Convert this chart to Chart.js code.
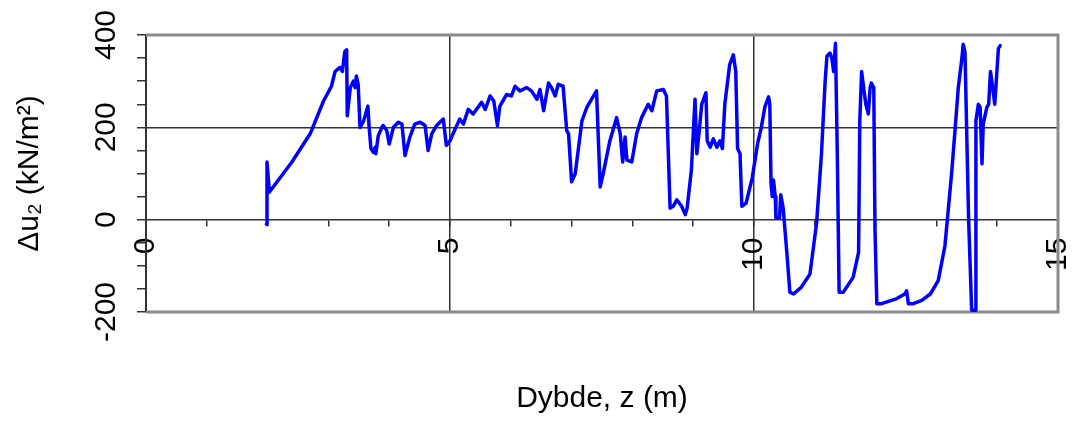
<!DOCTYPE html>
<html>
<head>
<meta charset="utf-8">
<script src="https://cdn.jsdelivr.net/npm/chart.js@4/dist/chart.umd.min.js"></script>
<style>
  html, body { margin: 0; padding: 0; background: #fff; }
  #wrap { width: 1073px; height: 421px; }
</style>
</head>
<body>
<div id="wrap"><canvas id="myChart"></canvas></div>
<script>
// Depth (m) and pore pressure change du2 (kN/m2), read along the sounding
const depth = [
    1.98, 1.99, 2.03, 2.40, 2.70, 2.92, 3.05, 3.11, 3.19, 3.23, 3.27, 3.30, 3.31, 3.36, 3.41,
    3.44, 3.46, 3.49, 3.52, 3.58, 3.65, 3.67, 3.70, 3.74, 3.77, 3.78, 3.82, 3.88, 3.90, 3.96,
    4.00, 4.07, 4.15, 4.21, 4.26, 4.34, 4.42, 4.51, 4.59, 4.64, 4.70, 4.78, 4.89, 4.94, 5.00,
    5.05, 5.16, 5.22, 5.30, 5.38, 5.52, 5.58, 5.66, 5.72, 5.78, 5.82, 5.93, 6.01, 6.07, 6.15,
    6.26, 6.34, 6.43, 6.48, 6.54, 6.62, 6.67, 6.73, 6.78, 6.86, 6.92, 6.95, 7.00, 7.06, 7.17,
    7.25, 7.41, 7.47, 7.52, 7.63, 7.74, 7.80, 7.84, 7.88, 7.91, 7.99, 8.07, 8.15, 8.26, 8.32,
    8.40, 8.51, 8.56, 8.62, 8.67, 8.73, 8.81, 8.87, 8.90, 8.97, 9.03, 9.06, 9.10, 9.14, 9.21,
    9.23, 9.28, 9.33, 9.39, 9.44, 9.48, 9.52, 9.60, 9.66, 9.70, 9.73, 9.77, 9.80, 9.87, 9.97,
    10.06, 10.12, 10.18, 10.24, 10.26, 10.28, 10.30, 10.32, 10.35, 10.36, 10.42, 10.44, 10.48, 10.54, 10.59,
    10.65, 10.78, 10.92, 11.03, 11.11, 11.17, 11.20, 11.25, 11.28, 11.31, 11.34, 11.37, 11.40, 11.47, 11.63,
    11.72, 11.74, 11.77, 11.81, 11.84, 11.88, 11.91, 11.93, 11.97, 11.99, 12.02, 12.10, 12.21, 12.35, 12.48,
    12.51, 12.54, 12.62, 12.76, 12.90, 13.03, 13.14, 13.25, 13.31, 13.36, 13.42, 13.44, 13.47, 13.53, 13.58,
    13.64, 13.65, 13.69, 13.72, 13.75, 13.77, 13.83, 13.86, 13.89, 13.94, 13.96, 14.02, 14.05
];
const du2 = [
    -10, 125, 60, 125, 186, 257, 289, 321, 330, 321, 364, 368, 225, 286, 300,
    286, 311, 293, 200, 214, 246, 200, 154, 146, 157, 143, 182, 200, 204, 193,
    164, 200, 211, 207, 139, 179, 207, 211, 204, 150, 186, 204, 218, 161, 171,
    186, 218, 207, 239, 229, 254, 239, 268, 257, 204, 246, 271, 268, 289, 279,
    286, 279, 261, 282, 236, 296, 286, 268, 293, 289, 193, 186, 82, 100, 214,
    243, 279, 71, 100, 171, 221, 186, 125, 179, 129, 125, 186, 221, 250, 236,
    279, 282, 268, 25, 29, 43, 29, 11, 25, 107, 261, 143, 193, 250, 275,
    171, 157, 175, 157, 171, 154, 250, 336, 357, 321, 154, 143, 29, 36, 90,
    165, 200, 245, 266, 250, 79, 50, 86, 50, 4, 4, 54, 25, -71, -157,
    -161, -146, -118, -7, 143, 300, 354, 361, 350, 321, 382, 143, -157, -157, -125,
    -71, 214, 321, 279, 250, 229, 286, 296, 286, -21, -182, -182, -177, -171, -161,
    -154, -182, -182, -175, -161, -132, -57, 100, 200, 286, 350, 380, 364, 0, -196,
    -196, 214, 250, 243, 121, 207, 243, 250, 321, 271, 250, 371, 377
];

// Axis ranges and labelled ticks
const xRange = [0, 15];
const yRange = [-200, 400];
const xLabelled = [0, 5, 10, 15];
const yLabelled = [-200, 0, 200, 400];
const xGridAt = [5, 10];
const yGridAt = [200];

const FONT = "'Liberation Sans', Arial, sans-serif";
const AXIS = '#333333';

// grey frame on top, right and bottom of the plot area
const framePlugin = {
    id: 'frame',
    beforeDatasetsDraw(chart) {
        const { ctx, chartArea: a } = chart;
        ctx.save();
        ctx.strokeStyle = '#8a8a8a';
        ctx.lineWidth = 3;
        ctx.beginPath();
        ctx.moveTo(a.left, a.top);
        ctx.lineTo(a.right, a.top);
        ctx.lineTo(a.right, a.bottom);
        ctx.lineTo(a.left, a.bottom);
        ctx.stroke();
        ctx.restore();
    }
};

function plotGraph() {
    const ctx = document.getElementById('myChart').getContext('2d');
    new Chart(ctx, {
        type: 'scatter',
        data: {
            datasets: [{
                data: depth.map((z, i) => ({ x: z, y: du2[i] })),
                showLine: true,
                borderColor: '#0000ff',
                borderWidth: 3.5,
                borderJoinStyle: 'round',
                borderCapStyle: 'round',
                pointRadius: 0,
                tension: 0,
                fill: false
            }]
        },
        options: {
            responsive: true,
            maintainAspectRatio: false,
            animation: false,
            layout: { padding: { top: 35, right: 15, bottom: 4, left: 0 } },
            scales: {
                x: {
                    type: 'linear',
                    position: { y: 0 }, // axis line crosses at du2 = 0
                    min: xRange[0],
                    max: xRange[1],
                    border: { display: true, color: AXIS, width: 1.5 },
                    grid: {
                        color: c => xGridAt.includes(c.tick.value) ? AXIS : 'rgba(0,0,0,0)',
                        tickColor: c => (c.tick.value === xRange[0] || c.tick.value === xRange[1]) ? 'rgba(0,0,0,0)' : AXIS,
                        lineWidth: 1.5,
                        tickLength: 6
                    },
                    ticks: {
                        stepSize: 1,
                        autoSkip: false,
                        minRotation: 90,
                        maxRotation: 90,
                        padding: 12,
                        color: '#000',
                        font: { family: FONT, size: 30 },
                        callback: v => xLabelled.includes(v) ? String(v) : ''
                    },
                    afterFit: s => { s.paddingLeft = 0; s.paddingRight = 0; }
                },
                y: {
                    min: yRange[0],
                    max: yRange[1],
                    border: { display: true, color: AXIS, width: 2 },
                    grid: {
                        color: c => yGridAt.includes(c.tick.value) ? AXIS : 'rgba(0,0,0,0)',
                        tickColor: AXIS,
                        lineWidth: 1.5,
                        tickLength: 9
                    },
                    ticks: {
                        stepSize: 50,
                        autoSkip: false,
                        minRotation: 90,
                        maxRotation: 90,
                        crossAlign: 'center',
                        padding: 0,
                        color: '#000',
                        font: { family: FONT, size: 30 },
                        callback: v => yLabelled.includes(v) ? String(v) : ''
                    },
                    title: {
                        display: true,
                        text: 'Δu₂ (kN/m²)',
                        color: '#000',
                        font: { family: FONT, size: 30 },
                        padding: { top: 12, bottom: 0 }
                    },
                    afterFit: s => { s.width = 146; }
                }
            },
            plugins: {
                legend: { display: false },
                tooltip: { enabled: false },
                title: {
                    display: true,
                    position: 'bottom',
                    fullSize: false,
                    text: 'Dybde, z (m)',
                    color: '#000',
                    font: { family: FONT, size: 30, weight: 'normal' },
                    padding: { top: 69, bottom: 0 }
                }
            }
        },
        plugins: [framePlugin]
    });
}

plotGraph();
</script>
</body>
</html>
